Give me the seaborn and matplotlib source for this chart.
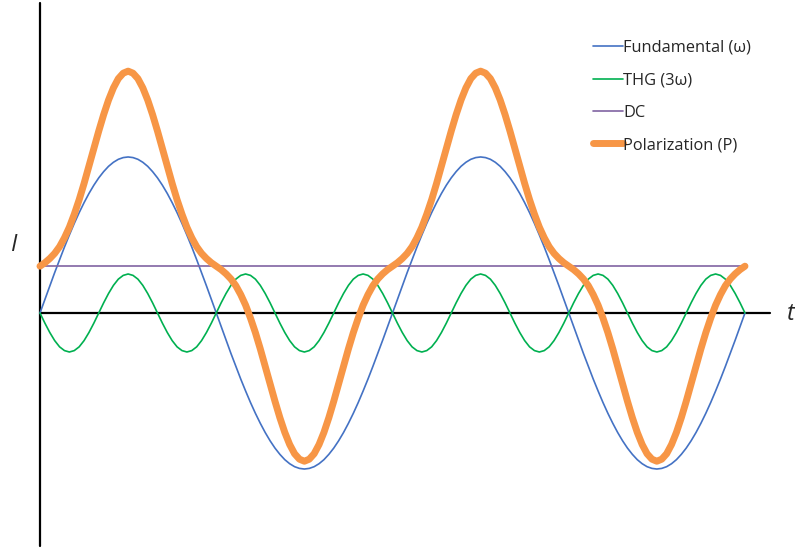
import matplotlib.pyplot as plt
import seaborn as sns
import pandas as pd

# phase in degrees, 5 degree steps over two periods of the fundamental
t_deg = list(range(0, 725, 5))

fundamental = [
    0, .087, .174, .259, .342, .423, .5, .574, .643, .707, .766, .819, .866, .906, .94, .966, .985, .996,
    1, .996, .985, .966, .94, .906, .866, .819, .766, .707, .643, .574, .5, .423, .342, .259, .174, .087,
    0, -.087, -.174, -.259, -.342, -.423, -.5, -.574, -.643, -.707, -.766, -.819, -.866, -.906, -.94, -.966, -.985, -.996,
    -1, -.996, -.985, -.966, -.94, -.906, -.866, -.819, -.766, -.707, -.643, -.574, -.5, -.423, -.342, -.259, -.174, -.087,
    0, .087, .174, .259, .342, .423, .5, .574, .643, .707, .766, .819, .866, .906, .94, .966, .985, .996,
    1, .996, .985, .966, .94, .906, .866, .819, .766, .707, .643, .574, .5, .423, .342, .259, .174, .087,
    0, -.087, -.174, -.259, -.342, -.423, -.5, -.574, -.643, -.707, -.766, -.819, -.866, -.906, -.94, -.966, -.985, -.996,
    -1, -.996, -.985, -.966, -.94, -.906, -.866, -.819, -.766, -.707, -.643, -.574, -.5, -.423, -.342, -.259, -.174, -.087,
    0,
]

thg = [
    0, -.065, -.125, -.177, -.217, -.241, -.25, -.241, -.217, -.177, -.125, -.065,
    0, .065, .125, .177, .217, .241, .25, .241, .217, .177, .125, .065,
    0, -.065, -.125, -.177, -.217, -.241, -.25, -.241, -.217, -.177, -.125, -.065,
    0, .065, .125, .177, .217, .241, .25, .241, .217, .177, .125, .065,
    0, -.065, -.125, -.177, -.217, -.241, -.25, -.241, -.217, -.177, -.125, -.065,
    0, .065, .125, .177, .217, .241, .25, .241, .217, .177, .125, .065,
    0, -.065, -.125, -.177, -.217, -.241, -.25, -.241, -.217, -.177, -.125, -.065,
    0, .065, .125, .177, .217, .241, .25, .241, .217, .177, .125, .065,
    0, -.065, -.125, -.177, -.217, -.241, -.25, -.241, -.217, -.177, -.125, -.065,
    0, .065, .125, .177, .217, .241, .25, .241, .217, .177, .125, .065,
    0, -.065, -.125, -.177, -.217, -.241, -.25, -.241, -.217, -.177, -.125, -.065,
    0, .065, .125, .177, .217, .241, .25, .241, .217, .177, .125, .065,
    0,
]

dc_t = [0, 720]
dc = [0.3, 0.3]

polarization = [
    .3, .322, .349, .382, .425, .482, .55, .633, .726, .83, .941, 1.054,
    1.166, 1.271, 1.365, 1.443, 1.502, 1.537, 1.55, 1.537, 1.502, 1.443, 1.365, 1.271,
    1.166, 1.054, .941, .83, .726, .633, .55, .482, .425, .382, .349, .322,
    .3, .278, .251, .218, .175, .118, .05, -.033, -.126, -.23, -.341, -.454,
    -.566, -.671, -.765, -.843, -.902, -.937, -.95, -.937, -.902, -.843, -.765, -.671,
    -.566, -.454, -.341, -.23, -.126, -.033, .05, .118, .175, .218, .251, .278,
    .3, .322, .349, .382, .425, .482, .55, .633, .726, .83, .941, 1.054,
    1.166, 1.271, 1.365, 1.443, 1.502, 1.537, 1.55, 1.537, 1.502, 1.443, 1.365, 1.271,
    1.166, 1.054, .941, .83, .726, .633, .55, .482, .425, .382, .349, .322,
    .3, .278, .251, .218, .175, .118, .05, -.033, -.126, -.23, -.341, -.454,
    -.566, -.671, -.765, -.843, -.902, -.937, -.95, -.937, -.902, -.843, -.765, -.671,
    -.566, -.454, -.341, -.23, -.126, -.033, .05, .118, .175, .218, .251, .278,
    .3,
]

series_names = ['Fundamental (ω)', 'THG (3ω)', 'DC', 'Polarization (P)']

sns.set_style('white')
plt.rcParams['font.family'] = ['Open Sans', 'DejaVu Sans']

df = pd.DataFrame({'t': t_deg, 'fund': fundamental, 'thg': thg, 'pol': polarization})
df_dc = pd.DataFrame({'t': dc_t, 'dc': dc})

fig = plt.figure(figsize=(7.95, 5.5), dpi=100)
ax = fig.add_axes([0, 0, 1, 1])
ax.axis('off')
ax.set_xlim(-40.85, 771.1)
ax.set_ylim(-1.519, 2.006)

# hand-drawn axes through the origin
ax.plot([0, 0], [-1.494, 1.987], color='black', lw=1.6, zorder=1)
ax.plot([0, 745.6], [0, 0], color='black', lw=1.6, zorder=1)

sns.lineplot(data=df, x='t', y='fund', color='#4472C4', lw=1.2, label=series_names[0], ax=ax, zorder=2)
sns.lineplot(data=df, x='t', y='thg', color='#00B050', lw=1.2, label=series_names[1], ax=ax, zorder=2)
sns.lineplot(data=df_dc, x='t', y='dc', color='#8064A2', lw=1.2, label=series_names[2], ax=ax, zorder=2)
sns.lineplot(data=df, x='t', y='pol', color='#F79646', lw=5, label=series_names[3], ax=ax, zorder=3,
             solid_capstyle='round')

ax.legend(loc='upper left', bbox_to_anchor=(593 / 795, 1 - 40 / 550), frameon=False,
          fontsize=11.8, handlelength=1.8, handletextpad=0.05, borderpad=0, borderaxespad=0,
          labelspacing=1.0)

fig.text(14 / 795, 1 - 245 / 550, 'I', fontsize=17, style='italic', ha='center', va='center')
fig.text(791 / 795, 1 - 314 / 550, 't', fontsize=17, style='italic', ha='center', va='center')

fig.savefig('out.png', dpi=100)
